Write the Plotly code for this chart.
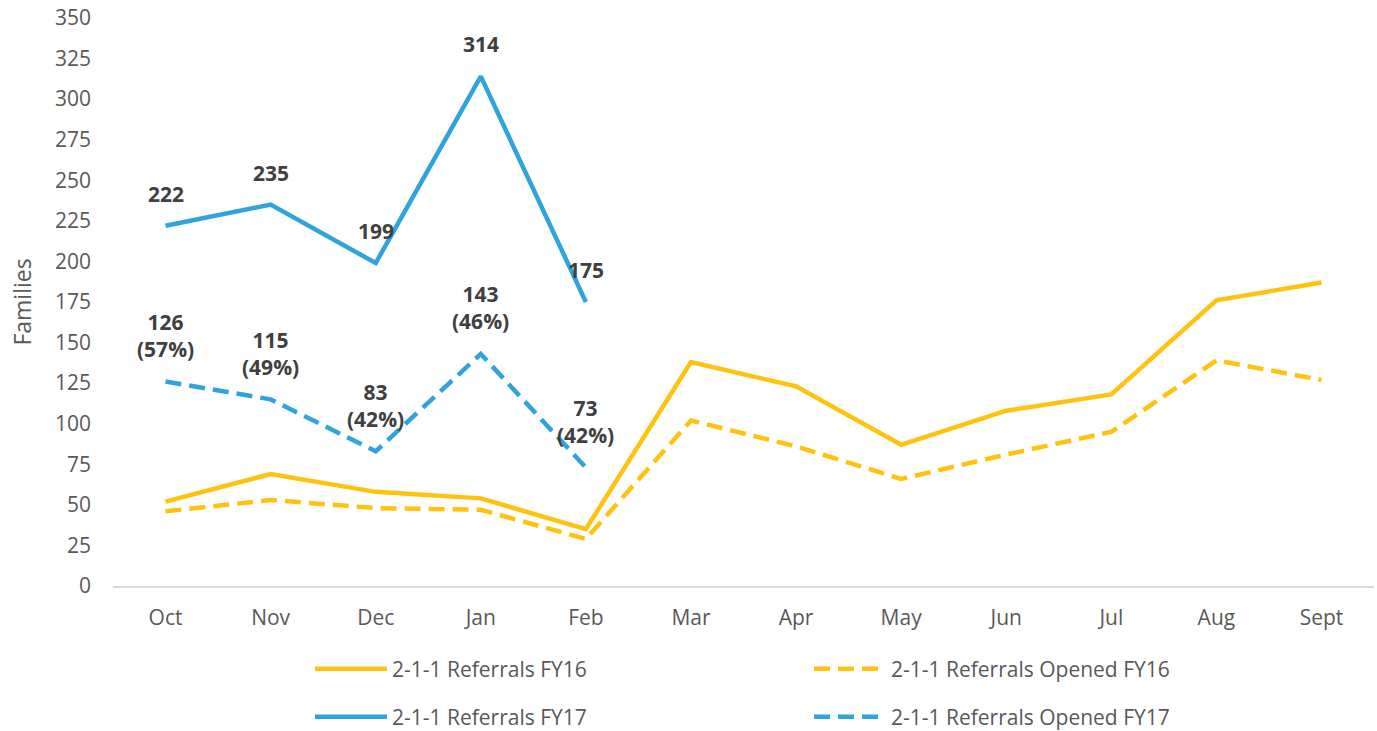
import plotly.graph_objects as go

months = ["Oct", "Nov", "Dec", "Jan", "Feb", "Mar", "Apr", "May", "Jun", "Jul", "Aug", "Sept"]
ref_fy16 = [52, 69, 58, 54, 35, 138, 123, 87, 108, 118, 176, 187]
opened_fy16 = [46, 53, 48, 47, 29, 102, 86, 66, 81, 95, 139, 127]
fy17_months = ["Oct", "Nov", "Dec", "Jan", "Feb"]
ref_fy17 = [222, 235, 199, 314, 175]
opened_fy17 = [126, 115, 83, 143, 73]

YELLOW = "#FFC20E"
BLUE = "#2FA4DC"
TEXT = "#404040"
TICK = "#595959"
FONT = "'Open Sans', sans-serif"

fig = go.Figure()
fig.add_trace(go.Scatter(x=months, y=ref_fy16, mode="lines", name="2-1-1 Referrals FY16",
                         line=dict(color=YELLOW, width=4.5), legend="legend"))
fig.add_trace(go.Scatter(x=months, y=opened_fy16, mode="lines", name="2-1-1 Referrals Opened FY16",
                         line=dict(color=YELLOW, width=4.5, dash="16px,8px"), legend="legend"))
fig.add_trace(go.Scatter(x=fy17_months, y=ref_fy17, mode="lines", name="2-1-1 Referrals FY17",
                         line=dict(color=BLUE, width=4.5), legend="legend2"))
fig.add_trace(go.Scatter(x=fy17_months, y=opened_fy17, mode="lines", name="2-1-1 Referrals Opened FY17",
                         line=dict(color=BLUE, width=4.5, dash="16px,8px"), legend="legend2"))

for m, v in zip(fy17_months, ref_fy17):
    fig.add_annotation(x=m, y=v, text=f"<b>{v}</b>", showarrow=False, yshift=32,
                       font=dict(family=FONT, size=21, color=TEXT))
for m, v, t in zip(fy17_months, opened_fy17, ref_fy17):
    pct = round(100 * v / t)
    fig.add_annotation(x=m, y=v, text=f"<b>{v}<br>({pct}%)</b>", showarrow=False, yshift=46,
                       font=dict(family=FONT, size=21, color=TEXT))

legend_common = dict(orientation="h", xanchor="left", yanchor="middle", entrywidth=412,
                     font=dict(family=FONT, size=21, color=TICK), bgcolor="rgba(0,0,0,0)",
                     itemwidth=72, traceorder="normal")

fig.update_layout(
    width=1377, height=731,
    margin=dict(l=113, r=3, t=18, b=145, autoexpand=False),
    paper_bgcolor="white", plot_bgcolor="white",
    font=dict(family=FONT, size=20, color=TICK),
    xaxis=dict(type="category", categoryorder="array", categoryarray=months,
               showgrid=False, showline=True, linecolor="#D9D9D9", linewidth=2,
               ticks="", ticklabelstandoff=12, tickfont=dict(size=21, color=TICK),
               zeroline=False, range=[-0.5, 11.5]),
    yaxis=dict(range=[0, 350], dtick=25, showgrid=False, showline=False, zeroline=False,
               ticks="", ticklabelstandoff=21, tickfont=dict(size=21, color=TICK),
               title=dict(text="Families", font=dict(size=23, color=TICK), standoff=16)),
    legend=dict(x=(310 - 113) / 1261, y=-(669 - 586) / 568, **legend_common),
    legend2=dict(x=(310 - 113) / 1261, y=-(717 - 586) / 568, **legend_common),
    showlegend=True,
)

fig.write_html("out.html")
